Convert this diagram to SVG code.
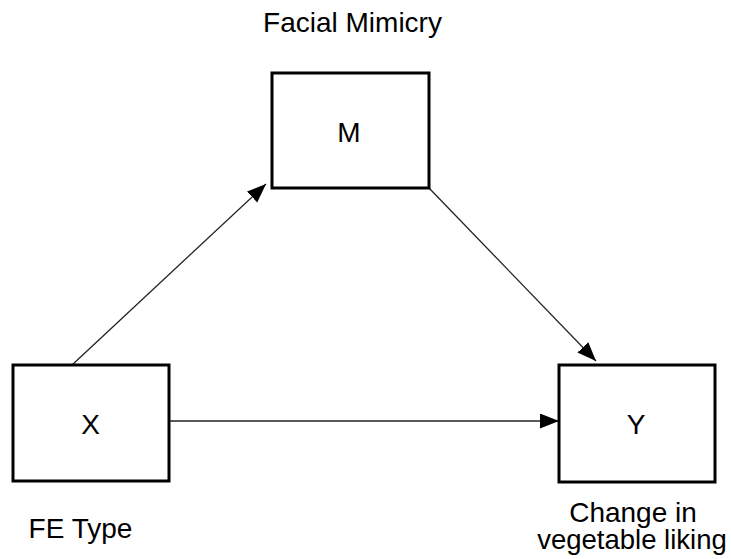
<svg xmlns="http://www.w3.org/2000/svg" width="731" height="559" viewBox="0 0 731 559">
<style>
.box{fill:#fff;stroke:#000;stroke-width:3}
.lbl{font-family:"Liberation Sans",Arial,sans-serif;font-size:28px;fill:#000;text-anchor:middle}
.edge{stroke:#222;stroke-width:1.3;fill:none}
</style>
<defs>
<marker id="ah" markerUnits="userSpaceOnUse" markerWidth="20" markerHeight="16" refX="19" refY="7.5" orient="auto">
<path d="M0,0 L19,7.5 L0,15 z" fill="#000"/>
</marker>
</defs>
<g id="connectors">
<line class="edge" x1="72" y1="365" x2="266" y2="184" marker-end="url(#ah)"/>
<line class="edge" x1="429" y1="188" x2="596" y2="361" marker-end="url(#ah)"/>
<line class="edge" x1="169" y1="421" x2="559" y2="421" marker-end="url(#ah)"/>
</g>
<g id="node-M">
<rect class="box" x="272" y="73" width="157" height="115"/>
<text class="lbl" x="349" y="142">M</text>
<text class="lbl" x="352.5" y="32">Facial Mimicry</text>
</g>
<g id="node-X">
<rect class="box" x="13" y="365" width="156" height="116"/>
<text class="lbl" x="90.5" y="434">X</text>
<text class="lbl" x="80.5" y="538">FE Type</text>
</g>
<g id="node-Y">
<rect class="box" x="559" y="365" width="156" height="117"/>
<text class="lbl" x="636" y="434">Y</text>
<text class="lbl" x="633" y="522">Change in</text>
<text class="lbl" x="632" y="549" style="font-size:27.5px">vegetable liking</text>
</g>
</svg>
